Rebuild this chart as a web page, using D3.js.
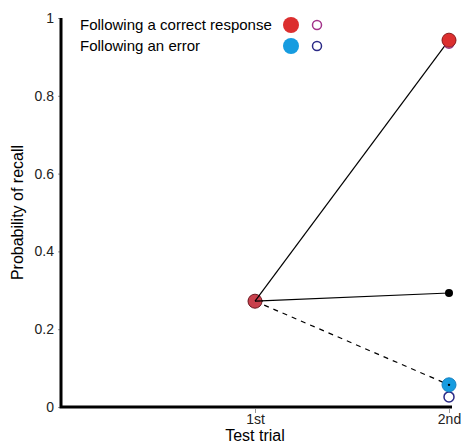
<!DOCTYPE html>
<html>
<head>
<meta charset="utf-8">
<script src="https://cdn.jsdelivr.net/npm/d3@7"></script>
<style>
  body { margin: 0; background: #fff; }
  text { font-family: "Liberation Sans", Arial, sans-serif; }
</style>
</head>
<body>
<div id="chart"></div>
<script>
// Data
const trials = ['1st', '2nd']
const firstTrial = 0.272            // recall on 1st test
const afterCorrect = 0.943          // 2nd test, following a correct response
const afterCorrectOpen = 0.935
const afterError = 0.057            // 2nd test, following an error
const afterErrorOpen = 0.026
const overall2nd = 0.293            // black dot at 2nd
const yTicks = [0, 0.2, 0.4, 0.6, 0.8, 1]
const legendLabels = ['Following a correct response', 'Following an error']

const dims = { width: 463, height: 444 }
const margin = { left: 61, top: 18, right: 11, bottom: 37 }

const svg = d3.select('#chart')
  .append('svg')
  .attr('width', dims.width)
  .attr('height', dims.height)

// scales - x is 0 at origin, 1 = 1st, 2 = 2nd
const x = d3.scaleLinear().domain([0, 2]).range([margin.left, 449])
const y = d3.scaleLinear().domain([0, 1]).range([dims.height - margin.bottom, margin.top])

// axes
const yAxis = svg.append('g')
  .attr('transform', `translate(${margin.left},0)`)
  .call(d3.axisLeft(y).tickValues(yTicks).tickFormat(d3.format('')).tickSize(3).tickPadding(4))
yAxis.select('.domain').remove()
yAxis.selectAll('.tick line').attr('stroke', '#999')
yAxis.selectAll('.tick text').attr('font-size', 14).attr('fill', '#222')

const xAxis = svg.append('g')
  .attr('transform', `translate(0,${y(0)})`)
  .call(d3.axisBottom(x).tickValues([1, 2]).tickFormat(d => trials[d - 1]).tickSize(4).tickPadding(3))
xAxis.select('.domain').remove()
xAxis.selectAll('.tick line').attr('stroke', '#999').attr('transform', 'translate(0,2)')
xAxis.selectAll('.tick text').attr('font-size', 14).attr('fill', '#222')

// thick axis lines
svg.append('path')
  .attr('d', `M${margin.left},${margin.top}V${y(0)}H452`)
  .attr('fill', 'none')
  .attr('stroke', 'black')
  .attr('stroke-width', 3)

// axis titles
svg.append('text')
  .attr('x', x(1)).attr('y', 441)
  .attr('text-anchor', 'middle')
  .attr('font-size', 16)
  .text('Test trial')

svg.append('text')
  .attr('transform', `translate(23,${(y(0) + y(1)) / 2}) rotate(-90)`)
  .attr('text-anchor', 'middle')
  .attr('font-size', 16)
  .text('Probability of recall')

// lines from 1st trial
const lines = [
  { to: afterCorrect, dash: null },
  { to: overall2nd, dash: null },
  { to: afterError, dash: '5,5' }
]
svg.append('g')
  .selectAll('line')
  .data(lines)
  .join('line')
  .attr('x1', x(1)).attr('y1', y(firstTrial))
  .attr('x2', x(2)).attr('y2', d => y(d.to))
  .attr('stroke', 'black')
  .attr('stroke-width', 1.2)
  .attr('stroke-dasharray', d => d.dash)

// open circles (behind)
const openPts = [
  { v: afterCorrectOpen, c: '#a3338a' },
  { v: afterErrorOpen, c: '#2b2a86' },
  { v: firstTrial, c: '#a3338a', t: 1 }
]
svg.append('g')
  .selectAll('circle')
  .data(openPts)
  .join('circle')
  .attr('cx', d => x(d.t || 2))
  .attr('cy', d => y(d.v))
  .attr('r', 5)
  .attr('fill', 'white')
  .attr('stroke', d => d.c)
  .attr('stroke-width', 1.5)

// filled circles
const filledPts = [
  { t: 1, v: firstTrial, c: '#c9404c', s: '#6a1a22' },
  { t: 2, v: afterCorrect, c: '#dc2f2f', s: '#8a1b1b' },
  { t: 2, v: afterError, c: '#169ce0', s: '#1680c0' }
]
svg.append('g')
  .selectAll('circle')
  .data(filledPts)
  .join('circle')
  .attr('cx', d => x(d.t))
  .attr('cy', d => y(d.v))
  .attr('r', 7)
  .attr('fill', d => d.c)
  .attr('stroke', d => d.s)
  .attr('stroke-width', 1)

// redraw the line ends over the 1st circle so they meet at its centre
svg.append('g')
  .selectAll('line')
  .data(lines.slice(0, 2))
  .join('line')
  .attr('x1', x(1)).attr('y1', y(firstTrial))
  .attr('x2', d => x(1) + 8 * (x(2) - x(1)) / Math.hypot(x(2) - x(1), y(d.to) - y(firstTrial)))
  .attr('y2', d => y(firstTrial) + 8 * (y(d.to) - y(firstTrial)) / Math.hypot(x(2) - x(1), y(d.to) - y(firstTrial)))
  .attr('stroke', 'black')
  .attr('stroke-width', 1.2)

// small black dots
svg.append('g')
  .selectAll('circle')
  .data([{ t: 2, v: overall2nd, r: 4 }, { t: 2, v: afterError, r: 1.2 }])
  .join('circle')
  .attr('cx', d => x(d.t))
  .attr('cy', d => y(d.v))
  .attr('r', d => d.r)
  .attr('fill', 'black')

// legend
const legend = svg.append('g')
  .selectAll('g')
  .data(legendLabels)
  .join('g')
  .attr('transform', (d, i) => `translate(0,${25 + i * 21})`)
legend.append('text')
  .attr('x', 80).attr('y', 5)
  .attr('font-size', 15)
  .text(d => d)
legend.append('circle')
  .attr('cx', 291).attr('r', 8)
  .attr('fill', (d, i) => i === 0 ? '#dc2f2f' : '#169ce0')
legend.append('circle')
  .attr('cx', 317).attr('r', 4.5)
  .attr('fill', 'white')
  .attr('stroke', (d, i) => i === 0 ? '#a3338a' : '#2b2a86')
  .attr('stroke-width', 1.5)
</script>
</body>
</html>
